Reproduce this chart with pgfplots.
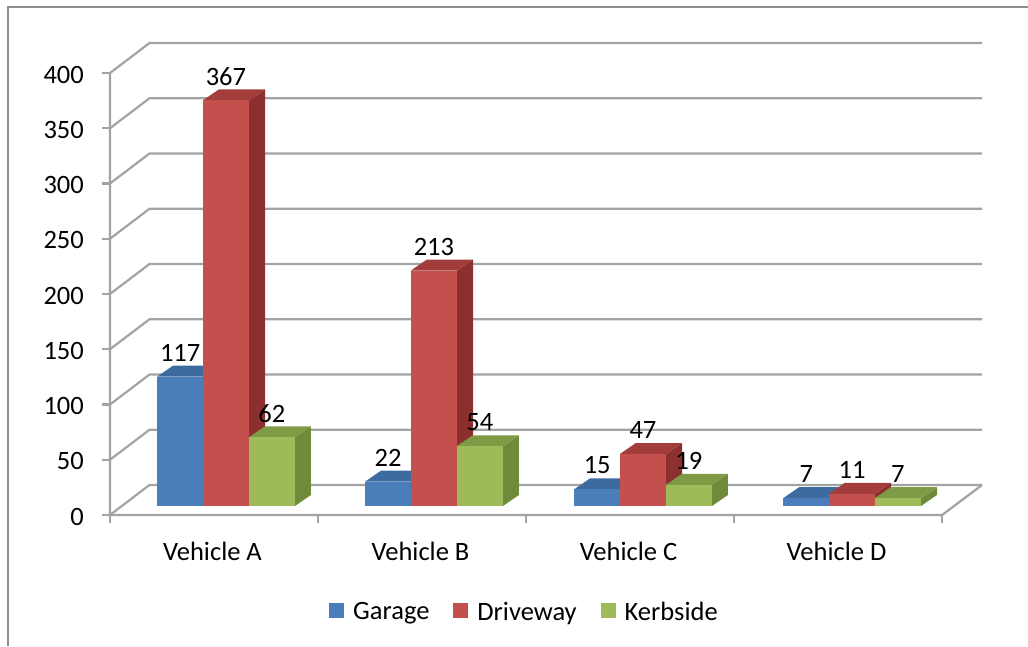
\documentclass[border=0pt]{standalone}
\usepackage{fontspec}
\setmainfont{Carlito}
\usepackage{pgfplots}
\pgfplotsset{compat=1.18}
\definecolor{gridc}{HTML}{A3A3A3}
\definecolor{framec}{HTML}{8E8E8E}
\definecolor{bf}{HTML}{4A7EBB}\definecolor{bt}{HTML}{3D6A9F}\definecolor{bs}{HTML}{355E8F}
\definecolor{rf}{HTML}{C4504D}\definecolor{rt}{HTML}{A33D3B}\definecolor{rs}{HTML}{8C2F2E}
\definecolor{gf}{HTML}{9DBB59}\definecolor{gt}{HTML}{7F9B45}\definecolor{gs}{HTML}{6F8A3A}
\newcommand{\gl}[1]{%
  \pgfmathsetmacro{\vb}{#1+27.15}%
  \addplot[forget plot,gridc,line width=2.2pt] coordinates {(-0.5,#1) (-0.31,\vb) (3.6923,\vb)};}
% x0, value, front, top, side
\newcommand{\tdbar}[5]{%
  \pgfmathsetmacro{\xa}{#1}\pgfmathsetmacro{\xb}{#1+0.2226}%
  \pgfmathsetmacro{\xc}{\xa+0.0769}\pgfmathsetmacro{\xd}{\xb+0.0769}%
  \pgfmathsetmacro{\ya}{8.14}\pgfmathsetmacro{\yb}{8.14+#2}%
  \pgfmathsetmacro{\yc}{\ya+10}\pgfmathsetmacro{\yd}{\yb+10}%
  \pgfmathsetmacro{\xl}{\xa+0.1113}\pgfmathsetmacro{\yl}{\yd+11.8}%
  \addplot[forget plot,draw=none,fill=#5] coordinates {(\xb,\ya) (\xd,\yc) (\xd,\yd) (\xb,\yb)} --cycle;
  \addplot[forget plot,draw=none,fill=#4] coordinates {(\xa,\yb) (\xc,\yd) (\xd,\yd) (\xb,\yb)} --cycle;
  \addplot[forget plot,draw=none,fill=#3] coordinates {(\xa,\ya) (\xb,\ya) (\xb,\yb) (\xa,\yb)} --cycle;
  \addplot[forget plot,draw=none,mark=none,point meta=explicit symbolic,
    nodes near coords={\pgfplotspointmeta},nodes near coords align={center},
    every node near coord/.style={anchor=center,inner sep=0pt,text=black,font=\lblfont}]
    coordinates {(\xl,\yl)[#2]};}
\newcommand{\lblfont}{\fontsize{26.5}{31}\selectfont}
\begin{document}
\begin{tikzpicture}[x=1pt,y=1pt]
\useasboundingbox (0,0) rectangle (1028,646);
\draw[framec,line width=2pt] (8,0) -- (8,639) -- (1028,639);
\begin{axis}[
  at={(110pt,131pt)},anchor=south west,
  scale only axis,width=872pt,height=472pt,
  xmin=-0.5,xmax=3.6923,ymin=0,ymax=427.15,
  clip=false,
  axis line style={draw=none},
  tick align=outside,
  tick style={gridc,line width=2.2pt},
  major tick length=8pt,
  xtick pos=bottom,ytick pos=left,
  ytick={0,50,100,150,200,250,300,350,400},
  xtick={-0.5,0.5,1.5,2.5,3.5},xticklabels={},
  extra x ticks={0,1,2,3},
  extra x tick labels={Vehicle A,Vehicle B,Vehicle C,Vehicle D},
  extra x tick style={major tick length=0pt,tick style={draw=none}},
  xticklabel style={font=\lblfont,yshift=-27pt,xshift=-1.5pt,inner sep=0pt},
  yticklabel style={font=\lblfont,xshift=-18pt,yshift=-1.5pt,inner sep=0pt},
  /pgf/number format/assume math mode=true,
  legend columns=3,
  legend image code/.code={\path (0pt,0pt) (22pt,0pt);\fill[#1] (0pt,-6pt) rectangle (15pt,9pt);},
  legend style={draw=none,fill=none,font=\lblfont,at={(0.4753,-0.2055)},anchor=center,inner sep=0pt,
    /tikz/every even column/.append style={column sep=22pt}},
  legend cell align=left,
]
\addlegendimage{draw=none,fill=bf}\addlegendentry{Garage}
\addlegendimage{draw=none,fill=rf}\addlegendentry{Driveway}
\addlegendimage{draw=none,fill=gf}\addlegendentry{Kerbside}
\gl{0}\gl{50}\gl{100}\gl{150}\gl{200}\gl{250}\gl{300}\gl{350}\gl{400}
\addplot[forget plot,gridc,line width=2.2pt] coordinates {(-0.5,400) (-0.5,0) (3.5,0) (3.6923,27.15)};
% Vehicle A
\tdbar{-0.274}{117}{bf}{bt}{bs}
\tdbar{-0.054}{367}{rf}{rt}{rs}
\tdbar{0.1665}{62}{gf}{gt}{gs}
% Vehicle B
\tdbar{0.726}{22}{bf}{bt}{bs}
\tdbar{0.946}{213}{rf}{rt}{rs}
\tdbar{1.1665}{54}{gf}{gt}{gs}
% Vehicle C
\tdbar{1.731}{15}{bf}{bt}{bs}
\tdbar{1.951}{47}{rf}{rt}{rs}
\tdbar{2.1715}{19}{gf}{gt}{gs}
% Vehicle D
\tdbar{2.736}{7}{bf}{bt}{bs}
\tdbar{2.956}{11}{rf}{rt}{rs}
\tdbar{3.1765}{7}{gf}{gt}{gs}
\end{axis}
\end{tikzpicture}
\end{document}
